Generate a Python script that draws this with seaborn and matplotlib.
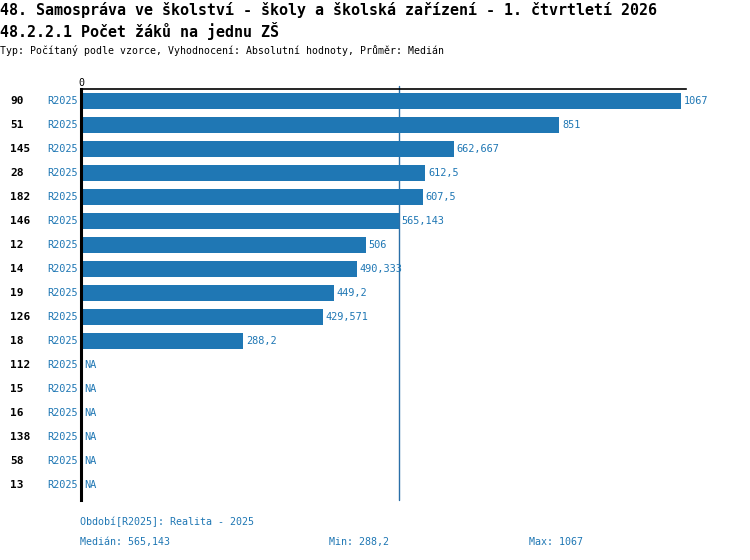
import numpy as np
import pandas as pd
import matplotlib
matplotlib.use("Agg")
import matplotlib.pyplot as plt
import matplotlib.transforms as mtransforms
import seaborn as sns

codes = ["90", "51", "145", "28", "182", "146", "12", "14", "19", "126", "18",
         "112", "15", "16", "138", "58", "13"]
values = [1067, 851, 662.667, 612.5, 607.5, 565.143, 506, 490.333, 449.2,
          429.571, 288.2, np.nan, np.nan, np.nan, np.nan, np.nan, np.nan]
period = "R2025"
median_val = 565.143
min_val = 288.2
max_val = 1067

def fmt(v):
    if np.isnan(v):
        return "NA"
    s = ("%.3f" % v).rstrip("0").rstrip(".")
    return s.replace(".", ",")

BLUE = "#1f77b4"
MONO = "DejaVu Sans Mono"

sns.set_theme(style="white")
plt.rcParams["font.family"] = [MONO, "DejaVu Sans"]
plt.rcParams["text.color"] = "black"
plt.rcParams["xtick.color"] = "black"

df = pd.DataFrame({"code": codes, "value": values})

fig = plt.figure(figsize=(7.5, 5.6), dpi=100)
W, H = 750, 560
ax = fig.add_axes([81 / W, 1 - 500 / H, (686 - 81) / W, (500 - 89) / H])

sns.barplot(data=df, x="value", y="code", order=codes, color=BLUE,
            orient="h", width=0.67, saturation=1, linewidth=0, ax=ax)

ax.set_xlim(0, 1076)
ax.set_ylim(16.625, -0.5)
ax.axvline(median_val, ymin=0, ymax=1.008, clip_on=False, color="#2a6fa8", lw=1, zorder=0)

for sp in ["right", "bottom"]:
    ax.spines[sp].set_visible(False)
ax.spines["left"].set_color("black")
ax.spines["left"].set_linewidth(2.2)
ax.spines["top"].set_color("black")
ax.spines["top"].set_linewidth(1.2)

ax.xaxis.tick_top()
ax.set_xticks([0])
ax.set_xticklabels(["0"], fontsize=7.2, family=MONO, color="black")
ax.tick_params(axis="x", length=0, pad=1)
ax.set_yticks([])
ax.set_xlabel("")
ax.set_ylabel("")

tr = mtransforms.blended_transform_factory(fig.transFigure, ax.transData)
off = mtransforms.offset_copy(ax.transData, fig=fig, x=3, y=0, units="dots")
for i, (c, v) in enumerate(zip(codes, values)):
    ax.text(10 / W, i, c, transform=tr, ha="left", va="center",
            fontsize=8, fontweight="bold", color="black", family=MONO)
    ax.text(78 / W, i, period, transform=tr, ha="right", va="center",
            fontsize=7.4, color=BLUE, family=MONO)
    xv = 0 if np.isnan(v) else v
    ax.text(xv, i, fmt(v), transform=off, ha="left", va="center",
            fontsize=7.4, color=BLUE, family=MONO)

fig.text(0, 1 - 10 / H, "48. Samospráva ve školství - školy a školská zařízení - 1. čtvrtletí 2026",
         ha="left", va="center", fontsize=10.8, fontweight="bold", color="black", family=MONO)
fig.text(0, 1 - 31 / H, "48.2.2.1 Počet žáků na jednu ZŠ",
         ha="left", va="center", fontsize=10.8, fontweight="bold", color="black", family=MONO)
fig.text(0, 1 - 50 / H, "Typ: Počítaný podle vzorce, Vyhodnocení: Absolutní hodnoty, Průměr: Medián",
         ha="left", va="center", fontsize=7.1, color="black", family=MONO)

fig.text(80 / W, 1 - 522 / H, "Období[R2025]: Realita - 2025",
         ha="left", va="center", fontsize=7.2, color=BLUE, family=MONO)
fig.text(80 / W, 1 - 542 / H, "Medián: " + fmt(median_val),
         ha="left", va="center", fontsize=7.2, color=BLUE, family=MONO)
fig.text(329 / W, 1 - 542 / H, "Min: " + fmt(min_val),
         ha="left", va="center", fontsize=7.2, color=BLUE, family=MONO)
fig.text(529 / W, 1 - 542 / H, "Max: " + fmt(max_val),
         ha="left", va="center", fontsize=7.2, color=BLUE, family=MONO)

fig.savefig("out.png", dpi=100)
